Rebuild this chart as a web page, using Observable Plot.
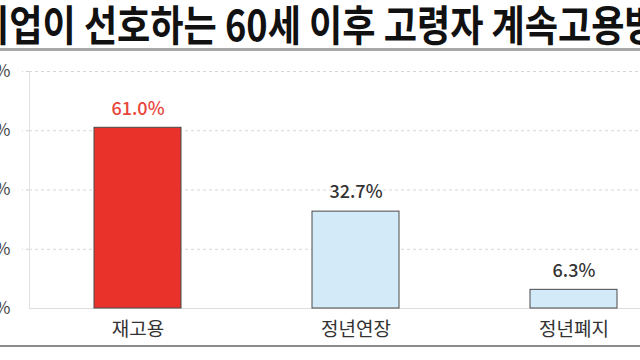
<!DOCTYPE html>
<html>
<head>
<meta charset="utf-8">
<script src="https://cdn.jsdelivr.net/npm/d3@7"></script>
<script src="https://cdn.jsdelivr.net/npm/@observablehq/plot@0.6"></script>
<style>
  html, body { margin: 0; padding: 0; background: #fff; }
  #wrap { position: relative; width: 640px; height: 360px; overflow: hidden; background: #fff;
    font-family: "Noto Sans CJK KR", "Noto Sans", sans-serif; }
  #title { position: absolute; top: 0px; left: -24px; white-space: nowrap; font-size: 42px; font-weight: 700;
    color: #111; line-height: 46px; transform: scaleX(0.86); transform-origin: 0 0; letter-spacing: 0px; }
  #topline { position: absolute; top: 48px; left: 0; width: 640px; height: 3px; background: #a8a8a8; }
  #botline { position: absolute; top: 345px; left: 0; width: 640px; height: 2px; background: #8c8c8c; }
  #chart { position: absolute; top: 51px; left: -31px; width: 734px; }
  #chart svg { max-width: none; display: block; }
</style>
</head>
<body>
<div id="wrap">
  <div id="title">기업이 선호하는 60세 이후 고령자 계속고용방식</div>
  <div id="topline"></div>
  <div id="chart"></div>
  <div id="botline"></div>
</div>
<script>
const categories = ["재고용", "정년연장", "정년폐지"];
const values = [61.0, 32.7, 6.3];
const barColors = ["#e8322a", "#d3ebf8", "#d3ebf8"];
const labelColors = ["#e8453c", "#333333", "#333333"];
const yTicks = [0, 20, 40, 60, 80];

const data = categories.map((c, i) => ({cat: c, value: values[i], fill: barColors[i], lab: labelColors[i]}));

const chart = Plot.plot({
  width: 734,
  height: 295,
  marginLeft: 60,
  marginRight: 20,
  marginTop: 20,
  marginBottom: 38,
  style: {fontFamily: "'Noto Sans CJK KR', 'Noto Sans', sans-serif", background: "transparent", maxWidth: "none"},
  x: {domain: categories, paddingInner: 0.6, paddingOuter: 0.3, label: null},
  y: {domain: [0, 80], label: null},
  marks: [
    Plot.axisY(yTicks.filter(d => d > 0), {tickSize: 7, stroke: "#cfcfcf", strokeDasharray: "3,3", text: null}),
    Plot.ruleY(yTicks.filter(d => d > 0), {stroke: "#d6d6d6", strokeDasharray: "3,3"}),
    Plot.axisY(yTicks, {tickSize: 0, tickPadding: 19, tickFormat: d => d + "%", fontSize: 17, fill: "#444", label: null}),
    Plot.frame({anchor: "left", stroke: "#e2e2e2"}),
    Plot.ruleY([0], {stroke: "#dddddd"}),
    Plot.barY(data, {x: "cat", y: "value", fill: "fill", stroke: "#4a4a4a", strokeWidth: 1}),
    Plot.text(data, {x: "cat", y: "value", text: d => d.value.toFixed(1) + "%", fill: "lab", dy: -19, fontSize: 18, fontWeight: 500}),
    Plot.axisX({tickSize: 0, tickPadding: 14, fontSize: 19, fill: "#333", label: null})
  ]
});
document.getElementById("chart").appendChild(chart);
</script>
</body>
</html>
